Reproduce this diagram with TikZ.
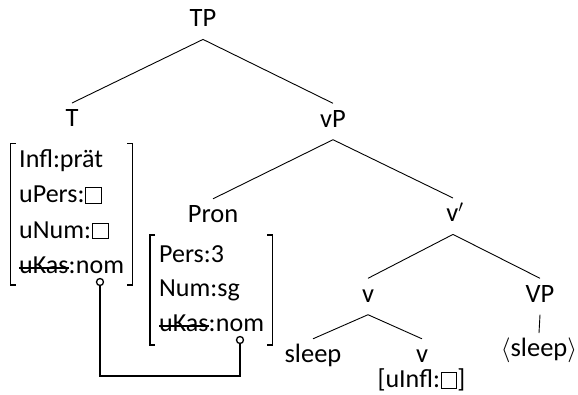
\documentclass[tikz,border=0pt]{standalone}
\usepackage{fontspec}
\setmainfont{Carlito}
\usetikzlibrary{calc}
\newsavebox\strkbox
\newcommand\strk[1]{\sbox\strkbox{#1}\rlap{\rule[4.2pt]{\wd\strkbox}{2.2pt}}\usebox\strkbox}
\newcommand\sq{\kern1pt{\fboxsep=0pt\fboxrule=1pt\fbox{\rule{0pt}{14.5pt}\rule{14.5pt}{0pt}}}}
\begin{document}
\begin{tikzpicture}[x=1pt,y=-1pt,
  lab/.style={anchor=base,font=\fontsize{26.5}{35.5}\selectfont,text height=17pt,text depth=6pt,inner ysep=6.5pt,inner xsep=2pt},
  feat/.style={anchor=base west,font=\fontsize{26}{35.5}\selectfont,inner sep=0pt},
  plain/.style={anchor=base,font=\fontsize{26}{35.5}\selectfont,inner sep=0pt},
  edge/.style={line width=0.9pt},
  brk/.style={line width=1.3pt},
  dot/.style={circle,draw,fill=white,line width=1.3pt,inner sep=0pt,minimum size=7pt},
  conn/.style={line width=2pt}]
\useasboundingbox (0,0) rectangle (578,394);
% tree labels
\node[lab] (TP) at (203,26.7) {TP};
\node[lab] (T) at (72,126.7) {T};
\node[lab] (vP) at (333,127) {vP};
\node[lab] (Pron) at (213,222.5) {Pron};
\node[lab] (vbar) at (455,221.7) {v$'$};
\node[lab] (v) at (368,302) {v};
\node[lab] (VP) at (540,302) {VP};
\node[lab] (sleep) at (313,362.5) {sleep};
\node[lab] (v2) at (422,362.5) {v};
\node[plain] (uinfl) at (421.5,387.5) {[uInfl:\sq]};
\node[lab] (tsleep) at (539,356.7) {$\langle$sleep$\rangle$};
% edges
\draw[edge] (TP.south) -- (T.north);
\draw[edge] (TP.south) -- (vP.north);
\draw[edge] (vP.south) -- (Pron.north);
\draw[edge] (vP.south) -- (vbar.north-|453,0);
\draw[edge] (vbar.south-|453,0) -- (v.north);
\draw[edge] (vbar.south-|453,0) -- (VP.north);
\draw[edge] (v.south) -- (sleep.north);
\draw[edge] (v.south) -- (v2.north);
\draw[edge] (VP.south) -- (tsleep.north);
% AVM under T
\node[feat] (a1) at (19,167) {Infl:prät};
\node[feat] (a2) at (19,202.5) {uPers:\sq};
\node[feat] (a3) at (19,238) {uNum:\sq};
\node[feat] (a4) at (19,273.5) {\strk{uKas}:};
\node[feat] (n4) at (a4.base east) {nom};
\draw[brk] ($(a1.base west)+(-3.5,-23.7)$) -| ($(a4.base west)+(-8.5,11.5)$) -- ++(5,0);
\draw[brk] ($(n4.base east |- a1.base)+(3,-23.7)$) -| ($(n4.base east)+(8,11.5)$) -- ++(-5,0);
% AVM under Pron
\node[feat] (b1) at (159,262) {Pers:3};
\node[feat] (b2) at (159,296.5) {Num:sg};
\node[feat] (b3) at (159,331) {\strk{uKas}:};
\node[feat] (m3) at (b3.base east) {nom};
\draw[brk] ($(b1.base west)+(-4,-27)$) -| ($(b3.base west)+(-9,14)$) -- ++(5,0);
\draw[brk] ($(m3.base east |- b1.base)+(3,-27)$) -| ($(m3.base east)+(8,14)$) -- ++(-5,0);
% connector
\coordinate (low) at (0,376);
\node[dot] (c1) at ($(n4.base)+(0,8.5)$) {};
\node[dot] (c2) at ($(m3.base)+(0,9)$) {};
\draw[conn] (c1.south) |- (c2.south |- low) -- (c2.south);
\end{tikzpicture}
\end{document}
